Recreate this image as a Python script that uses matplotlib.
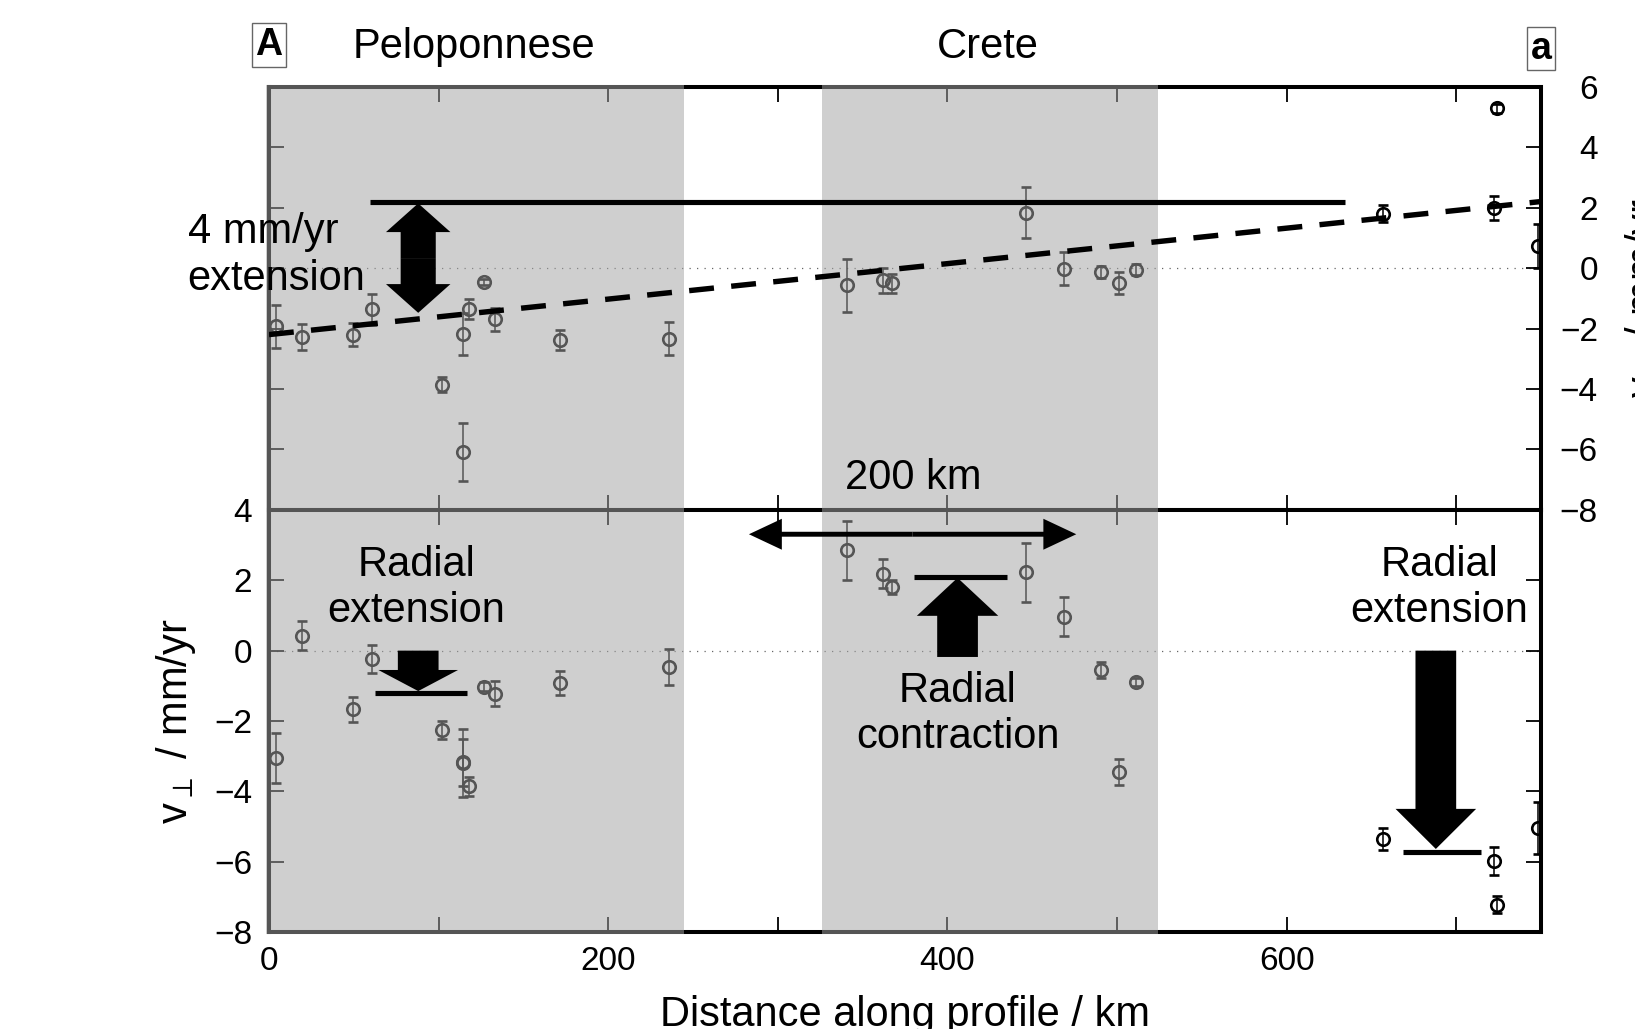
import matplotlib
matplotlib.use("Agg")
import matplotlib.pyplot as plt
import matplotlib.patches as mpatches
import matplotlib.transforms as mtransforms

plt.rcParams['font.family'] = ['Liberation Sans', 'DejaVu Sans']
plt.rcParams['mathtext.fontset'] = 'dejavusans'

# distance along profile (km), same stations in both panels
dist = [4.4, 19.5, 49.5, 60.6, 102.1, 114.5, 118.1, 126.9, 133.3, 114.3, 171.6, 235.8,
        341.0, 362.0, 367.3, 446.5, 468.9, 490.7, 501.3, 511.2, 656.7, 722.5, 723.9, 748.1]

# top panel: velocity parallel to profile (mm/yr)
v_par = [-1.93, -2.29, -2.20, -1.37, -3.86, -2.18, -1.35, -0.47, -1.70, -6.09, -2.39, -2.33,
         -0.57, -0.41, -0.51, 1.83, -0.02, -0.14, -0.50, -0.05, 1.80, 1.98, 5.28, 0.73]
v_par_err = [0.71, 0.43, 0.38, 0.50, 0.25, 0.70, 0.33, 0.10, 0.39, 0.95, 0.33, 0.54,
             0.87, 0.41, 0.30, 0.84, 0.54, 0.20, 0.37, 0.17, 0.29, 0.39, 0.15, 0.74]

# bottom panel: velocity perpendicular to profile (mm/yr)
v_perp = [-3.04, 0.42, -1.67, -0.24, -2.25, -3.17, -3.86, -1.02, -1.22, -3.20, -0.92, -0.46,
          2.86, 2.19, 1.82, 2.23, 0.97, -0.55, -3.46, -0.89, -5.35, -5.97, -7.22, -5.05]
v_perp_err = [0.71, 0.41, 0.35, 0.41, 0.26, 0.67, 0.27, 0.12, 0.36, 0.97, 0.33, 0.52,
              0.84, 0.41, 0.20, 0.84, 0.56, 0.24, 0.37, 0.12, 0.31, 0.40, 0.23, 0.74]

# dashed trend in the top panel
fit_x = [0, 750]
fit_y = [-2.2, 2.2]

# shaded regions
region_names = ["Peloponnese", "Crete"]
region_start = [-2, 326]
region_end = [245, 524]
region_label_x = [121, 424]

XMAX = 750
FS = 30
TFS = 24
LSP = 1.22

fig = plt.figure(figsize=(16.35, 10.29), dpi=100)
pos_top = [0.1645, 0.5044, 0.7780, 0.4114]
pos_bot = [0.1645, 0.0943, 0.7780, 0.4101]

ax1 = fig.add_axes(pos_top)
ax2 = fig.add_axes(pos_bot)

def style(ax, ylo, yhi):
    ax.set_xlim(0, XMAX)
    ax.set_ylim(ylo, yhi)
    ax.set_xticks([0, 200, 400, 600])
    ax.set_xticks([100, 300, 500, 700], minor=True)
    ax.set_yticks(range(ylo, yhi + 1, 2))
    ax.tick_params(which='both', direction='in', length=10.8, width=1.3,
                   top=True, bottom=True, left=True, right=True, labelsize=TFS)
    for s in ax.spines.values():
        s.set_linewidth(2.9)
    ax.axhline(0, color='0.4', lw=0.9, ls=(0, (1, 5)), zorder=1)

style(ax1, -8, 6)
style(ax2, -8, 4)

ebar = dict(fmt='o', mfc='none', mec='k', ms=9, mew=1.9, ecolor='k',
            elinewidth=1.1, capsize=3.3, capthick=1.1, zorder=2)
ax1.errorbar(dist, v_par, yerr=v_par_err, **ebar)
ax2.errorbar(dist, v_perp, yerr=v_perp_err, **ebar)

# top panel: labels only on the right
ax1.tick_params(axis='x', labelbottom=False)
ax1.tick_params(axis='y', labelleft=False, labelright=True, pad=41)
plt.setp(ax1.yaxis.get_majorticklabels(), ha='right')
ax1.yaxis.set_label_position('right')
ax1.set_ylabel(r"v$_{\parallel}$ / mm/yr", fontsize=FS)
ax1.yaxis.set_label_coords(1.0645, 0.5)

ax2.tick_params(axis='y', pad=12)
ax2.tick_params(axis='x', pad=10)
ax2.set_ylabel(r"v$_{\perp}$ / mm/yr", fontsize=FS)
ax2.yaxis.set_label_coords(-0.056, 0.5)
ax2.set_xlabel("Distance along profile / km", fontsize=FS)
ax2.xaxis.set_label_coords(0.5, -0.15)

# shading drawn over both panels (greys out points and frame beneath)
blend = mtransforms.blended_transform_factory(ax1.transData, fig.transFigure)
y_lo = pos_bot[1] - 0.002
y_hi = pos_top[1] + pos_top[3] + 0.002
for x0, x1 in zip(region_start, region_end):
    r = mpatches.Rectangle((x0, y_lo), x1 - x0, y_hi - y_lo, transform=blend,
                           facecolor='0.645', alpha=0.52, lw=0, zorder=1)
    fig.add_artist(r)

# overlay axes for annotations, on top of the shading
ov1 = fig.add_axes(pos_top, zorder=2)
ov2 = fig.add_axes(pos_bot, zorder=2)
for ov, ax in ((ov1, ax1), (ov2, ax2)):
    ov.set_xlim(ax.get_xlim())
    ov.set_ylim(ax.get_ylim())
    ov.set_facecolor('none')
    ov.axis('off')

def fat_arrow(ov, x, y0, y1, w, hw, hl):
    ov.add_patch(mpatches.FancyArrow(x, y0, 0, y1 - y0, width=w, head_width=hw,
                                     head_length=hl, length_includes_head=True,
                                     color='k', lw=0, clip_on=False))

def bar(ov, x0, x1, y):
    ov.plot([x0, x1], [y, y], color='k', lw=3.7, solid_capstyle='butt', clip_on=False)

# top panel annotations
ov1.plot(fit_x, fit_y, color='k', lw=3.9, ls=(0, (4.6, 3.2)))
bar(ov1, 59.6, 634.3, 2.185)
fat_arrow(ov1, 88, 0.33, 2.14, 20.7, 38, 0.95)
fat_arrow(ov1, 88, 0.33, -1.48, 20.7, 38, 0.95)
ov1.text(-48, 0.42, "4 mm/yr\nextension", fontsize=FS, ha='left', va='center',
         linespacing=LSP, clip_on=False)
ov1.text(380, -6.93, "200 km", fontsize=FS, ha='center', va='center')
for name, xl in zip(region_names, region_label_x):
    ov1.text(xl, 7.31, name, fontsize=FS, ha='center', va='center', clip_on=False)
box = dict(boxstyle='square,pad=0.1', fc='white', ec='0.4', lw=1)
ov1.text(0, 7.37, "A", fontsize=27, fontweight='bold', ha='center', va='center',
         bbox=box, clip_on=False)
ov1.text(XMAX, 7.26, "a", fontsize=27, fontweight='bold', ha='center', va='center',
         bbox=box, clip_on=False)

# bottom panel annotations
for xs, xe in ((379.5, 283), (379.5, 476)):
    ov2.add_patch(mpatches.FancyArrow(xs, 3.31, xe - xs, 0, width=0.14, head_width=0.88,
                                      head_length=19.4, length_includes_head=True,
                                      color='k', lw=0))
fat_arrow(ov2, 88, 0.0, -1.15, 24, 47, 0.6)
bar(ov2, 62.7, 117, -1.2)
ov2.text(87, 1.78, "Radial\nextension", fontsize=FS, ha='center', va='center',
         linespacing=LSP)

fat_arrow(ov2, 406, -0.18, 2.07, 24, 48, 1.08)
bar(ov2, 380.6, 435, 2.09)
ov2.text(406, -1.8, "Radial\ncontraction", fontsize=FS, ha='center', va='center',
         linespacing=LSP)

fat_arrow(ov2, 688, 0.0, -5.64, 24, 47.5, 1.14)
bar(ov2, 668.8, 714.5, -5.73)
ov2.text(690, 1.78, "Radial\nextension", fontsize=FS, ha='center', va='center',
         linespacing=LSP)

fig.savefig("out.png", dpi=100)
